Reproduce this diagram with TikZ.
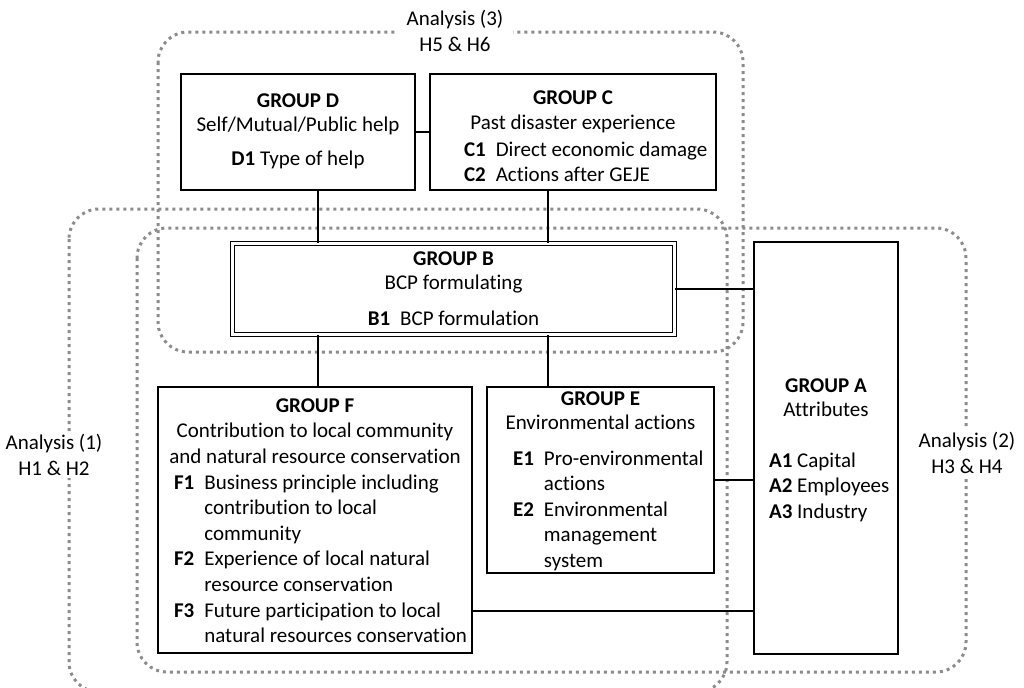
\documentclass[tikz,border=0pt]{standalone}
\usepackage{fontspec}
\setmainfont{Carlito}[Ligatures=NoCommon]
\begin{document}
\begin{tikzpicture}[x=0.5pt,y=-0.5pt,
  every node/.style={font=\fontsize{10.5pt}{12.8pt}\selectfont},
  grp/.style={draw,line width=0.7pt,inner sep=0pt},
  link/.style={line width=0.8pt},
  area/.style={draw=black!45,line width=1.5pt,dash pattern=on 1.5pt off 2pt,rounded corners=15pt},
  alabel/.style={fill=white,align=center,inner xsep=5pt,inner ysep=1pt}]
  \useasboundingbox (0,0) rectangle (1024,687);
  % analysis areas
  \draw[area] (69,209) rectangle (727,692);
  \draw[area] (137,228) rectangle (966,672);
  \draw[area] (158,32) rectangle (743,352);
  \node[alabel] (an3) at (455,31) {Analysis (3)\\H5 \& H6};
  \node[alabel] (an1) at (54,455) {Analysis (1)\\H1 \& H2};
  \node[alabel] (an2) at (967,453) {Analysis (2)\\H3 \& H4};
  % groups
  \node[grp,minimum width=117pt,minimum height=58pt] (d) at (298,132) {};
  \node[grp,minimum width=143pt,minimum height=58pt] (c) at (573,132) {};
  \node[grp,double,double distance=1.2pt,line width=0.6pt,minimum width=221.1pt,minimum height=45.6pt] (b) at (453.5,289) {};
  \node[grp,minimum width=72pt,minimum height=206pt] (a) at (826,448) {};
  \node[grp,minimum width=157pt,minimum height=133pt] (f) at (315,520) {};
  \node[grp,minimum width=113.5pt,minimum height=93pt] (e) at (600.5,480) {};
  % group D
  \node[anchor=base] at (298,107) {\textbf{GROUP D}};
  \node[anchor=base] at (298,131) {Self/Mutual/Public help};
  \node[anchor=base] at (298,165) {\textbf{D1} Type of help};
  % group C
  \node[anchor=base] at (573,104) {\textbf{GROUP C}};
  \node[anchor=base] at (573,129) {Past disaster experience};
  \node[anchor=base west] at (457,156) {\begin{tabular}[t]{@{}l@{\hspace{5pt}}l@{}}
    \textbf{C1} & Direct economic damage\\
    \textbf{C2} & Actions after GEJE
  \end{tabular}};
  % group B
  \node[anchor=base] at (453.5,265) {\textbf{GROUP B}};
  \node[anchor=base] at (453.5,289) {BCP formulating};
  \node[anchor=base] at (453.5,325) {\textbf{B1}\hspace{5pt}BCP formulation};
  % group F
  \node[anchor=base] at (315,412) {\textbf{GROUP F}};
  \node[anchor=base] at (315,437) {Contribution to local community};
  \node[anchor=base] at (315,463) {and natural resource conservation};
  \node[anchor=base west] at (167,489) {\begin{tabular}[t]{@{}l@{\hspace{5pt}}l@{}}
    \textbf{F1} & Business principle including\\
     & contribution to local\\
     & community\\
    \textbf{F2} & Experience of local natural\\
     & resource conservation\\
    \textbf{F3} & Future participation to local\\
     & natural resources conservation
  \end{tabular}};
  % group E
  \node[anchor=base] at (600.5,405) {\textbf{GROUP E}};
  \node[anchor=base] at (600.5,429) {Environmental actions};
  \node[anchor=base west] at (506,465) {\begin{tabular}[t]{@{}l@{\hspace{5pt}}l@{}}
    \textbf{E1} & Pro-environmental\\
     & actions\\
    \textbf{E2} & Environmental\\
     & management\\
     & system
  \end{tabular}};
  % group A
  \node[anchor=base] at (826,392) {\textbf{GROUP A}};
  \node[anchor=base] at (826,416) {Attributes};
  \node[anchor=base west] at (762,467) {\begin{tabular}[t]{@{}l@{}}
    \textbf{A1} Capital\\
    \textbf{A2} Employees\\
    \textbf{A3} Industry
  \end{tabular}};
  % links
  \coordinate (lx1) at (318,0);
  \coordinate (lx2) at (548,0);
  \coordinate (fy) at (0,611);
  \draw[link] (d.east) -- (c.west);
  \draw[link] (d.south -| lx1) -- (b.north -| lx1);
  \draw[link] (c.south -| lx2) -- (b.north -| lx2);
  \draw[link] (b.south -| lx1) -- (f.north -| lx1);
  \draw[link] (b.south -| lx2) -- (e.north -| lx2);
  \draw[link] (b.east) -- (b.east -| a.west);
  \draw[link] (e.east) -- (e.east -| a.west);
  \draw[link] (f.east |- fy) -- (a.west |- fy);
\end{tikzpicture}
\end{document}
